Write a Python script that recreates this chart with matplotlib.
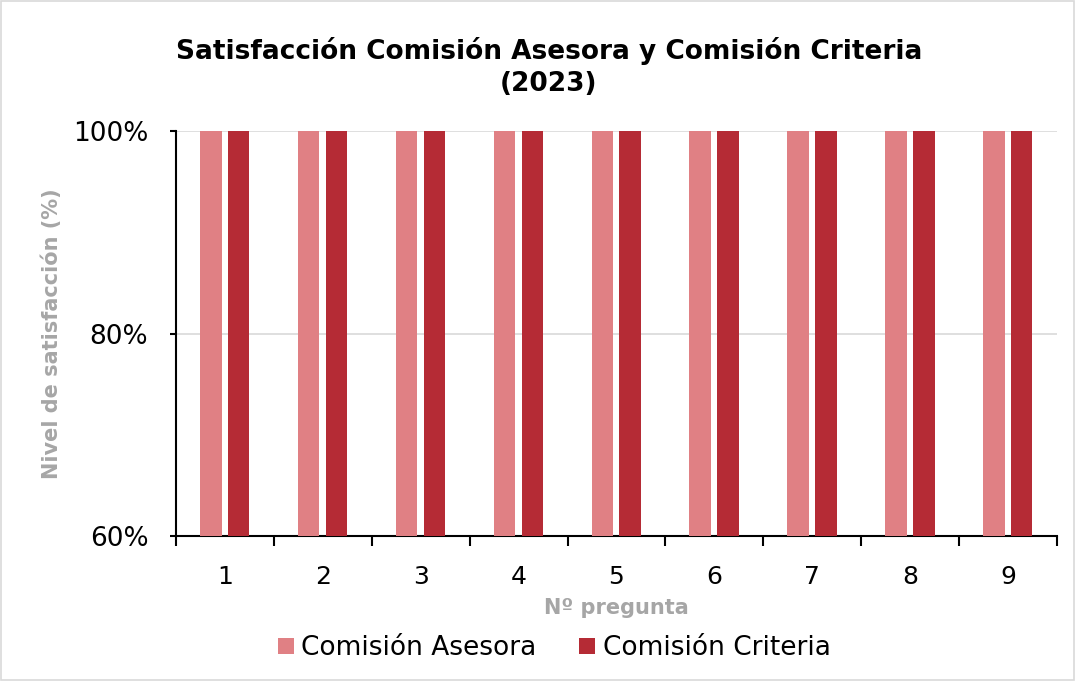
import matplotlib
matplotlib.use('Agg')
import matplotlib.pyplot as plt
from matplotlib.patches import Rectangle
import numpy as np

preguntas = ['1', '2', '3', '4', '5', '6', '7', '8', '9']
asesora = [100, 100, 100, 100, 100, 100, 100, 100, 100]
criteria = [100, 100, 100, 100, 100, 100, 100, 100, 100]

plt.rcParams['font.family'] = ['DejaVu Sans']

fig = plt.figure(figsize=(10.76, 6.81), dpi=100)
ax = fig.add_axes([0.1636, 0.2129, 0.8187, 0.5947])

x = np.arange(len(preguntas))
w = 0.22
ax.bar(x - 0.145, asesora, w, color='#E08084', label='Comisión Asesora', zorder=3)
ax.bar(x + 0.14, criteria, w, color='#B52B35', label='Comisión Criteria', zorder=3)

ax.set_ylim(60, 100)
ax.set_xlim(-0.5, len(preguntas) - 0.5)
ax.set_yticks([60, 80, 100])
ax.set_yticklabels(['60%', '80%', '100%'])
ax.yaxis.grid(True, color='#D9D9D9', linewidth=1.2, zorder=0)

ax.set_xticks(x)
ax.set_xticklabels(preguntas)
ax.set_xticks(np.arange(-0.5, len(preguntas)), minor=True)
ax.tick_params(axis='x', which='major', length=0, labelsize=18, pad=21)
ax.tick_params(axis='x', which='minor', length=7, width=1.5, color='black')
ax.tick_params(axis='y', length=4, width=1.5, labelsize=19, pad=16)

for s in ['top', 'right']:
    ax.spines[s].set_visible(False)
ax.spines['left'].set_linewidth(1.5)
ax.spines['bottom'].set_linewidth(1.5)

ax.set_xlabel('Nº pregunta', fontsize=15, fontweight='bold', color='#A6A6A6', labelpad=6)
ax.set_ylabel('Nivel de satisfacción (%)', fontsize=15, fontweight='bold', color='#A6A6A6', labelpad=8)

fig.text(0.51, 0.901, 'Satisfacción Comisión Asesora y Comisión Criteria\n(2023)',
         ha='center', va='center', fontsize=19, fontweight='bold', linespacing=1.3)

fig.legend(loc='center', bbox_to_anchor=(0.515, 0.048), ncol=2, frameon=False,
           fontsize=19, handlelength=0.6, handleheight=0.6, handletextpad=0.3,
           columnspacing=1.6)

fig.patches.append(Rectangle((0.001, 0.001), 0.997, 0.997, transform=fig.transFigure,
                             fill=False, edgecolor='#D9D9D9', linewidth=1.2))

plt.savefig('out.png', dpi=100)
plt.close()
